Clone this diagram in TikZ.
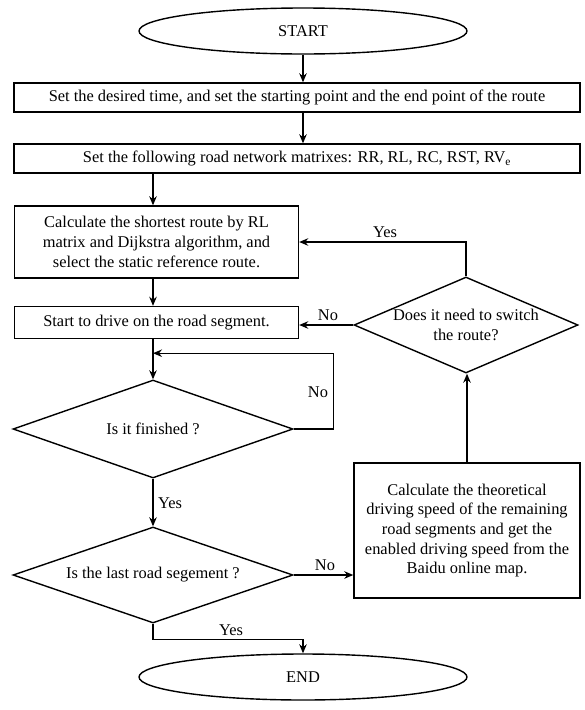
\documentclass[tikz,border=0pt]{standalone}
\usepackage{fontspec}
\setmainfont{Liberation Serif}
\usetikzlibrary{shapes.geometric,arrows.meta,calc}
\begin{document}
\begin{tikzpicture}[x=1pt,y=-1pt,
  every node/.style={font=\fontsize{16.4}{19.7}\selectfont},
  lw/.style={line width=1.4pt},
  term/.style={lw,draw,ellipse,inner sep=0pt,minimum width=328pt,minimum height=46pt},
  procbox/.style={lw,draw,rectangle,inner sep=2pt,align=center},
  decide/.style={lw,draw,diamond,inner sep=0pt,shape aspect=2.5},
  arr/.style={lw,-{Stealth[length=9pt,width=7.5pt]}},
  lbl/.style={inner sep=0pt}
]
\useasboundingbox (0,0) rectangle (585,710);

\node[term] (start) at (303,31) {START};
\node[procbox,minimum width=566pt,minimum height=29pt] (b1) at (297,97.5)
  {Set the desired time, and set the starting point and the end point of the route};
\node[procbox,minimum width=566pt,minimum height=29pt] (b2) at (297,158.5)
  {Set the following road network matrixes: RR, RL, RC, RST, RV\textsubscript{e}};
\node[procbox,minimum width=284pt,minimum height=72pt] (b3) at (156.5,242)
  {Calculate the shortest route by RL\\matrix and Dijkstra algorithm, and\\select the static reference route.};
\node[procbox,minimum width=284pt,minimum height=32pt] (b4) at (156.5,322.5)
  {Start to drive on the road segment.};

\node[decide,minimum width=224pt,minimum height=96pt,
  label={[align=center,font=\fontsize{16.4}{19.7}\selectfont]center:Does it need to switch\\the route?}] (sw) at (466,325) {};
\node[decide,minimum width=280pt,minimum height=98pt,
  label={[font=\fontsize{16.4}{19.7}\selectfont]center:Is it finished ?}] (d1) at (153,429) {};
\node[decide,minimum width=280pt,minimum height=96pt,
  label={[font=\fontsize{16.4}{19.7}\selectfont]center:Is the last road segement ?}] (d2) at (153,575) {};

\node[procbox,minimum width=226pt,minimum height=135pt] (rb) at (467,530.5)
  {Calculate the theoretical\\driving speed of the remaining\\road segments and get the\\enabled driving speed from the\\Baidu online map.};

\node[term] (end) at (303,677) {END};

% connectors
\draw[arr] (start.south) -- (b1.north -| start.south);
\draw[arr] (b1.south -| start.south) -- (b2.north -| start.south);
\draw[arr] (b2.south -| d1.north) -- (b3.north -| d1.north);
\draw[arr] (b3.south -| d1.north) -- (b4.north -| d1.north);
\draw[arr] (b4.south -| d1.north) -- (d1.north);
\coordinate (j1) at ($(b4.south -| d1.north)+(0,14)$);
\draw[arr] (d1.east) -- ++(40,0) |- (j1);
\draw[arr] (sw.west) -- (sw.west -| b4.east);
\draw[arr] (sw.north) |- (b3.east);
\draw[arr] (rb.north) -- (rb.north |- sw.south);
\draw[arr] (d1.south) -- (d2.north);
\draw[arr] (d2.east) -- (d2.east -| rb.west);
\draw[arr] (d2.south) -- ++(0,16) -| (end.north);

% labels
\node[lbl] (l1) at (385,232) {Yes};
\node[lbl] (l2) at (328,315) {No};
\node[lbl] (l3) at (318,392) {No};
\node[lbl] (l4) at (170,503) {Yes};
\node[lbl] (l5) at (325,565) {No};
\node[lbl] (l6) at (231,630) {Yes};
\end{tikzpicture}
\end{document}
